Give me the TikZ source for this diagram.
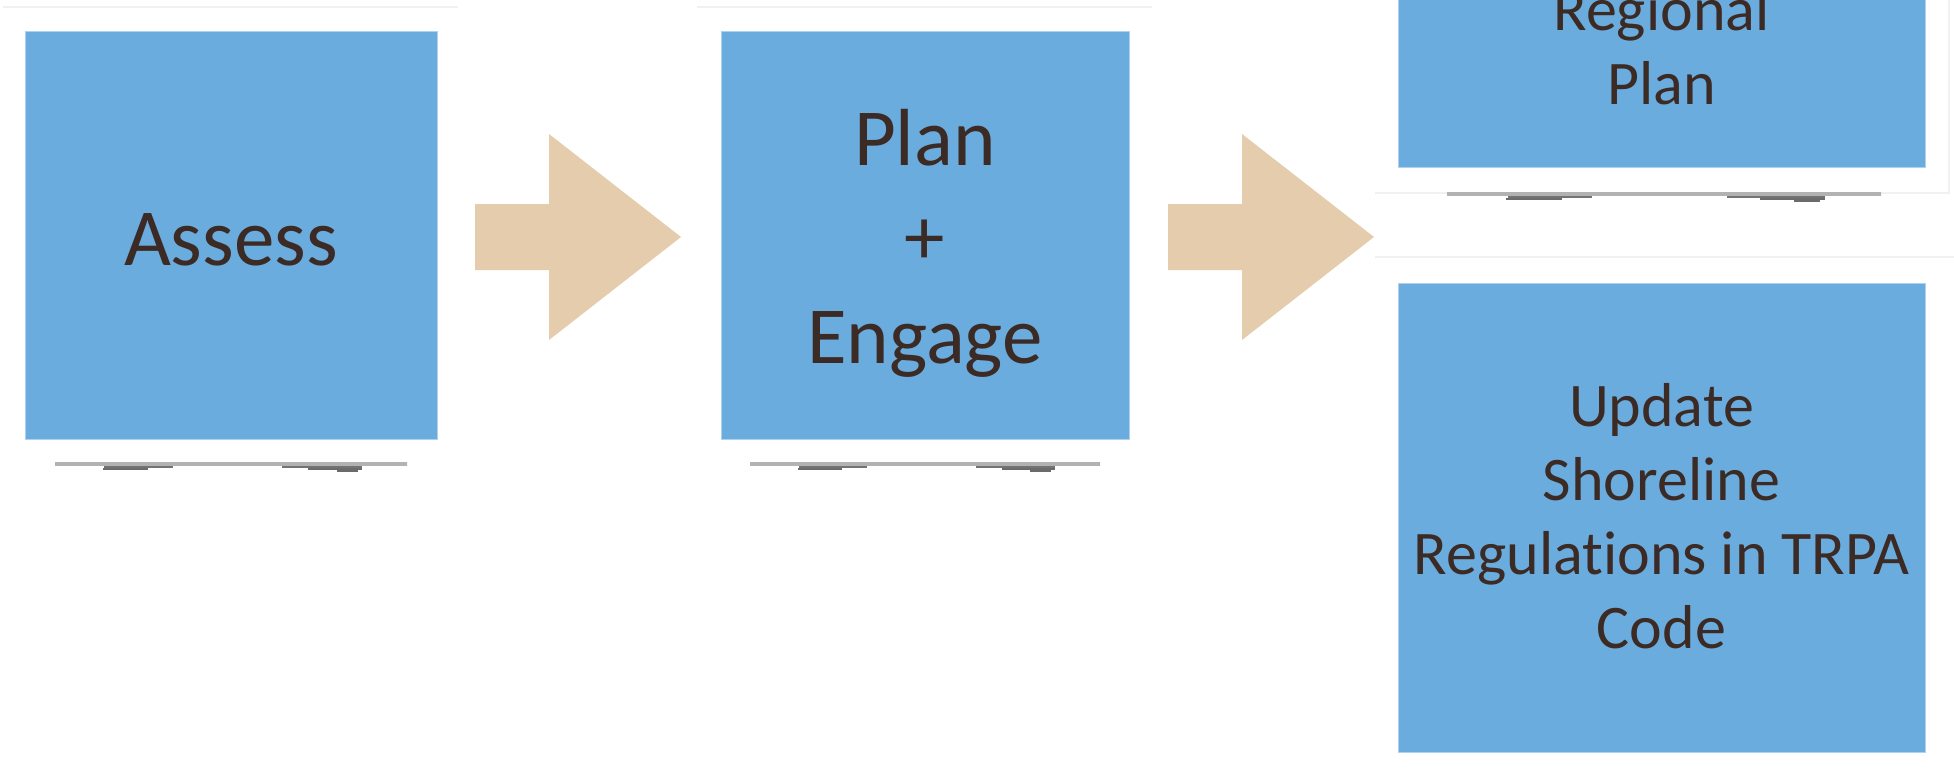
\documentclass[tikz,border=0pt]{standalone}
\usepackage{fontspec}
\setmainfont{Carlito}[Ligatures={NoCommon,NoRare}]
\usetikzlibrary{positioning}
\definecolor{boxblue}{HTML}{6BACDE}
\definecolor{arrowtan}{HTML}{E4CCAD}
\definecolor{textbrown}{HTML}{3C2A24}
\definecolor{panelgray}{HTML}{F1F1F1}

\begin{document}
\begin{tikzpicture}[x=1pt,y=-1pt,
    step box/.style={rectangle,fill=boxblue,draw=boxblue!55!white,line width=1pt,inner sep=0pt},
    big text/.style={text=textbrown,font=\fontsize{81}{99}\selectfont,align=center,inner sep=0pt,anchor=base},
    small text/.style={text=textbrown,font=\fontsize{62}{74}\selectfont,align=center,inner sep=0pt,anchor=base},
    fat arrow/.style={fill=arrowtan,draw=none},
    panel line/.style={draw=panelgray,line width=1.5pt}]

  \useasboundingbox (0,0) rectangle (1954,776);
  \clip (0,0) rectangle (1954,776);

  % faint panel edges
  \draw[panel line] (3,7) -- (458,7);
  \draw[panel line] (697,7) -- (1152,7);
  \draw[panel line] (1949,0) -- (1949,193) -- (1375,193);
  \draw[panel line] (1375,257) -- (1954,257);

  % the four steps
  \node[step box, minimum width=412pt, minimum height=407pt] (assess) at (231,235.5) {};
  \node[step box, minimum width=408pt, minimum height=407pt] (engage) at (925,235.5) {};
  \node[step box, minimum width=527pt, minimum height=267pt] (regional) at (1661.5,33.5) {};
  \node[step box, minimum width=527pt, minimum height=469pt] (code) at (1661.5,517.5) {};

  % texts, placed by the baseline of their last line
  \node[big text] (assess text) at (assess.center |- 0,265) {Assess};
  \node[big text] (engage text) at (engage.center |- 0,363) {Plan\\+\\Engage};
  \node[small text] (regional text) at (regional.center |- 0,104) {Regional\\Plan};
  \node[small text] (code text) at (code.center |- 0,648) {Update\\Shoreline\\Regulations in TRPA\\Code};

  % block arrows
  \foreach \ax in {475,1168} {
    \fill[fat arrow] (\ax,204) -- ++(74,0) -- ++(0,-70) -- ++(132,103)
      -- ++(-132,103) -- ++(0,-70) -- ++(-74,0) -- cycle;
  }

  % reflections under the boxes
  \foreach \sx/\sy/\sl in {55/464/352,750/464/350,1447/194/434} {
    \shade[left color=black!30,middle color=black!48,right color=black!30]
      (\sx,{\sy-1.5}) rectangle ++(\sl,3);
    \fill[black!55] ({\sx+0.14*\sl},{\sy+1.5}) rectangle ({\sx+0.335*\sl},{\sy+3.5});
    \fill[black!58] ({\sx+0.136*\sl},{\sy+3.5}) rectangle ({\sx+0.264*\sl},{\sy+5.5});
    \fill[black!55] ({\sx+0.645*\sl},{\sy+1.5}) rectangle ({\sx+0.872*\sl},{\sy+3.5});
    \fill[black!58] ({\sx+0.72*\sl},{\sy+3.5}) rectangle ({\sx+0.872*\sl},{\sy+5.5});
    \fill[black!58] ({\sx+0.80*\sl},{\sy+5.5}) rectangle ({\sx+0.86*\sl},{\sy+7.5});
  }
\end{tikzpicture}
\end{document}
